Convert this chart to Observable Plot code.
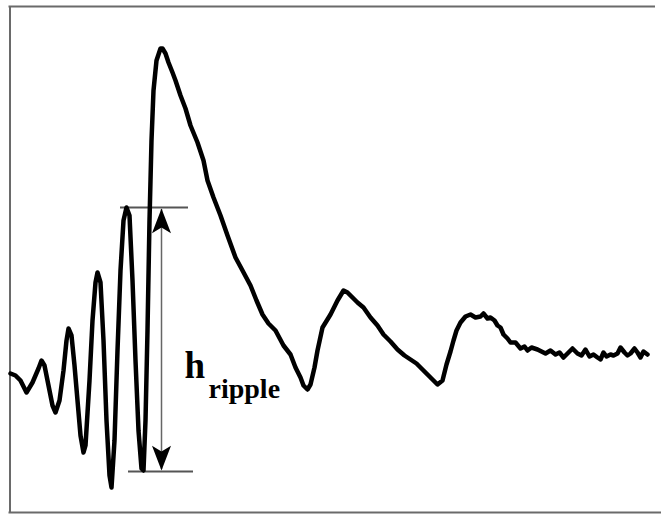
<!DOCTYPE html>
<html>
<head>
<meta charset="utf-8">
<script src="https://cdn.jsdelivr.net/npm/d3@7"></script>
<script src="https://cdn.jsdelivr.net/npm/@observablehq/plot@0.6"></script>
<style>
  html, body { margin: 0; padding: 0; background: #fff; overflow: hidden; }
  #chart svg { display: block; max-width: none !important; }
</style>
</head>
<body>
<div id="chart"></div>
<script>
// Waveform: time (arbitrary units) and amplitude (arbitrary units, 0 = rest level)
const time = [0, 5, 10, 16, 22, 28, 31, 34, 38, 42, 45, 49, 53, 56, 58, 61, 64, 67, 70, 73, 75, 79, 82, 85, 87, 90, 93, 96, 99, 101, 104, 107, 110, 113, 116, 119, 122, 125, 128, 131, 133, 135, 137, 139, 141, 143, 146, 150, 152, 155, 158, 162, 165, 170, 175, 180, 187, 193, 197, 203, 210, 217, 225, 232, 240, 246, 252, 258, 265, 273, 280, 285, 290, 293, 297, 300, 304, 307, 312, 320, 327, 333, 337, 340, 343, 347, 353, 360, 367, 373, 380, 387, 394, 400, 406, 413, 420, 427, 432, 436, 440, 443, 446, 450, 455, 460, 465, 470, 473, 477, 480, 484, 487, 490, 493, 497, 500, 505, 510, 514, 517, 521, 527, 531, 535, 540, 545, 549, 553, 557, 562, 567, 571, 575, 579, 583, 587, 590, 593, 596, 600, 603, 607, 610, 614, 617, 620, 624, 627, 630, 633, 637, 640, 643, 647, 651];
const amp  = [2, 0, -5, -17, -7, 7, 15, 10, -10, -30, -37, -25, 5, 35, 47, 40, 10, -25, -60, -77, -70, -5, 55, 93, 103, 93, 35, -45, -100, -112, -65, 25, 105, 155, 168, 160, 95, 15, -55, -93, -95, -45, 45, 155, 235, 285, 315, 327, 327, 322, 313, 303, 295, 280, 267, 250, 233, 215, 195, 178, 160, 140, 118, 105, 90, 75, 61, 52, 45, 30, 21, 8, -2, -10, -14, -9, 8, 25, 48, 61, 75, 85, 83, 80, 77, 73, 68, 58, 50, 41, 34, 26, 20, 16, 12, 5, -2, -9, -5, 11, 24, 35, 45, 53, 59, 61, 58, 59, 62, 57, 58, 55, 50, 48, 41, 37, 33, 33, 27, 29, 25, 28, 26, 24, 22, 25, 21, 23, 18, 22, 27, 22, 20, 26, 19, 21, 18, 16, 23, 19, 21, 20, 22, 28, 23, 20, 22, 27, 23, 18, 24, 21];

// h_ripple annotation (same units)
const rippleTop = 168;
const rippleBottom = -96;
const rippleX = 151;
const topBar = [110, 178];
const bottomBar = [118, 183];
const labelMain = "h";
const labelSub = "ripple";

// picture border (same units): top, left and bottom edges only
const borderTop = 369;
const borderBottom = -137;
const borderLeft = -0.5;
const borderTopEnd = 645;
const borderBottomEnd = 651;

const wave = time.map((t, i) => ({t, a: amp[i]}));
const topEdge = [{x1: borderLeft - 1, x2: borderTopEnd, y: borderTop}];
const bottomEdge = [{x1: borderLeft - 1, x2: borderBottomEnd, y: borderBottom}];
const leftEdge = [{x: borderLeft, y1: borderBottom, y2: borderTop}];
const bars = [
  {x1: topBar[0], x2: topBar[1], y: rippleTop},
  {x1: bottomBar[0], x2: bottomBar[1], y: rippleBottom}
];
const heads = [{x: rippleX, y: rippleTop - 1, rot: 0}, {x: rippleX, y: rippleBottom + 1, rot: 180}];
const shaft = [{x: rippleX, y1: rippleBottom + 2, y2: rippleTop - 2}];
const labels = [
  {x: 174, y: -2, text: labelMain, size: 37},
  {x: 198, y: -22, text: labelSub, size: 28}
];

// notched, filled arrowhead with its tip at the dot position, pointing up
const arrowHead = {
  draw(context, size) {
    const r = Math.sqrt(size / Math.PI);
    context.moveTo(0, 0);
    context.lineTo(r, 2.6 * r);
    context.lineTo(0, 2.0 * r);
    context.lineTo(-r, 2.6 * r);
    context.closePath();
  }
};

const chart = Plot.plot({
  width: 661,
  height: 514,
  margin: 0,
  x: {domain: [-10, 651], axis: null},
  y: {domain: [-139, 375], axis: null},
  marks: [
    Plot.ruleY(topEdge, {x1: "x1", x2: "x2", y: "y", stroke: "#6a6a6a", strokeWidth: 2}),
    Plot.ruleY(bottomEdge, {x1: "x1", x2: "x2", y: "y", stroke: "#6a6a6a", strokeWidth: 2}),
    Plot.ruleX(leftEdge, {x: "x", y1: "y1", y2: "y2", stroke: "#6a6a6a", strokeWidth: 2}),
    Plot.ruleY(bars, {x1: "x1", x2: "x2", y: "y", stroke: "#555", strokeWidth: 2}),
    Plot.ruleX(shaft, {x: "x", y1: "y1", y2: "y2", stroke: "#666", strokeWidth: 1.5}),
    Plot.dot(heads, {x: "x", y: "y", rotate: "rot", r: 9.5, symbol: arrowHead, fill: "#000", stroke: "none"}),
    Plot.line(wave, {x: "t", y: "a", stroke: "#000", strokeWidth: 4.5, strokeLinejoin: "round", strokeLinecap: "round"}),
    Plot.text(labels, {x: "x", y: "y", text: "text", fontSize: "size", textAnchor: "start", lineAnchor: "bottom",
      fontFamily: "Liberation Serif", fontWeight: "bold", fill: "#000"})
  ]
});
document.getElementById("chart").appendChild(chart);
</script>
</body>
</html>
